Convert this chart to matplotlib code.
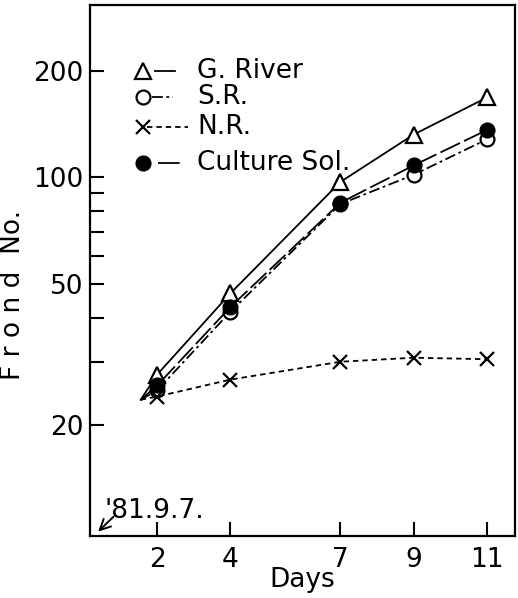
import matplotlib as mpl
mpl.use('Agg')
import matplotlib.pyplot as plt
from matplotlib.ticker import FixedLocator, FixedFormatter, NullLocator

# data
days = [2, 4, 7, 9, 11]
start_day = 1.55
start_val = 23.5
g_river = [27.7, 47, 97, 132, 168]
s_r = [25, 41.7, 84, 101.6, 128]
n_r = [24, 26.8, 30.1, 30.9, 30.6]
culture = [25.8, 43, 84.7, 108, 136]

labels = ['G. River', 'S.R.', 'N.R.', 'Culture Sol.']
yticks = [20, 30, 40, 50, 60, 70, 80, 90, 100, 200]
ytick_labels = ['20', '', '', '50', '', '', '', '', '100', '200']

plt.rcParams['font.family'] = ['DejaVu Sans']
plt.rcParams['font.size'] = 19
plt.rcParams['xtick.direction'] = 'in'
plt.rcParams['ytick.direction'] = 'in'

fig = plt.figure(figsize=(5.18, 5.98), dpi=100)
ax = fig.add_axes([0.174, 0.104, 0.820, 0.888])

lw = 1.3
styles = [
    (g_river, '^', 'white', '-', 11),
    (s_r, 'o', 'white', (0, (6, 2, 1.5, 2)), 10),
    (n_r, 'x', 'black', (0, (3, 2.2)), 10),
    (culture, 'o', 'black', (0, (12, 2.5)), 10),
]

for vals, mk, fc, ls, ms in styles:
    ax.plot([start_day] + days, [start_val] + vals, color='black', lw=lw, ls=ls,
            marker=mk, ms=ms, mfc=fc, mec='black', mew=1.6, markevery=list(range(1, 6)))

ax.set_yscale('log')
ax.set_ylim(9.7, 307)
ax.set_xlim(0.17, 11.76)

ax.yaxis.set_major_locator(FixedLocator(yticks))
ax.yaxis.set_major_formatter(FixedFormatter(ytick_labels))
ax.yaxis.set_minor_locator(NullLocator())
ax.set_xticks(days)
ax.set_xticklabels([str(d) for d in days])
ax.xaxis.set_minor_locator(NullLocator())

ax.tick_params(axis='both', which='major', direction='in', length=10, width=1.5)
ax.tick_params(axis='y', which='major', pad=5)
ax.tick_params(axis='x', which='major', pad=8)
for sp in ax.spines.values():
    sp.set_linewidth(1.6)

ax.set_xlabel('Days', labelpad=-4)
ax.set_ylabel('F r o n d  No.')
ax.yaxis.set_label_coords(-0.15, 0.454)

# legend drawn by hand: marker first, then a short line, then text
leg_y = [0.876, 0.827, 0.770, 0.702]
seg = [(0.153, 0.200), (0.146, 0.195), (0.135, 0.230), (0.160, 0.222)]
mk_x = [0.125, 0.125, 0.125, 0.125]
for (vals, mk, fc, ls, ms), y, (x0, x1), mx, lab in zip(styles, leg_y, seg, mk_x, labels):
    ax.plot([mx], [y], transform=ax.transAxes, marker=mk, ms=ms, mfc=fc, mec='black',
            mew=1.6, ls='none', clip_on=False)
    ax.plot([x0, x1], [y, y], transform=ax.transAxes, color='black', lw=lw, ls=ls)
    ax.text(0.252, y, lab, transform=ax.transAxes, va='center', ha='left')

ax.annotate('', xy=(0.019, 0.008), xycoords='axes fraction',
            xytext=(0.055, 0.036), textcoords='axes fraction',
            arrowprops=dict(arrowstyle='->', color='black', lw=1.4, shrinkA=0, shrinkB=0))
ax.text(0.035, 0.022, "'81.9.7.", transform=ax.transAxes, fontsize=19,
        va='bottom', ha='left')

plt.savefig('out.png', dpi=100)
